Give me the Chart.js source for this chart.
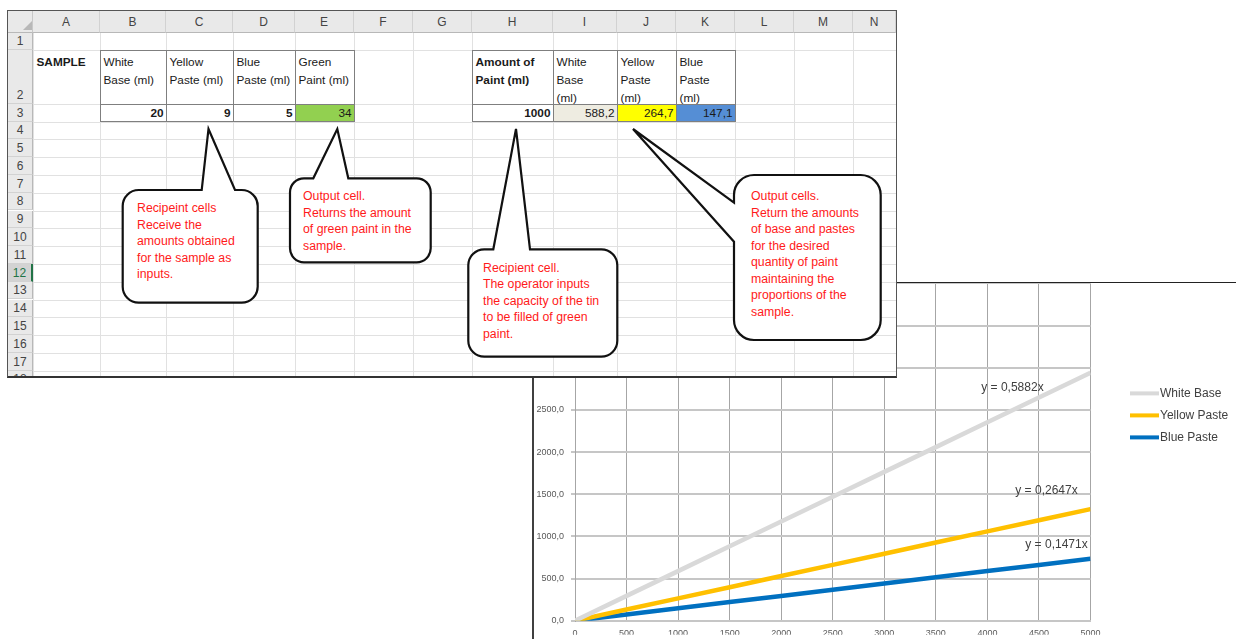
<!DOCTYPE html>
<html>
<head>
<meta charset="utf-8">
<script src="https://cdn.jsdelivr.net/npm/chart.js@4/dist/chart.umd.min.js"></script>
<style>
    body { margin: 0; width: 1236px; height: 639px; overflow: hidden; background: #fff; position: relative;
           font-family: "Liberation Sans", Arial, sans-serif; }
    #chartBox { position: absolute; left: 532px; top: 282px; width: 704px; height: 357px;
                border-left: 2px solid #404040; border-top: 1px solid #222; overflow: hidden; background: #fff; }
    #chartBox canvas { position: absolute; left: 0; top: -12px; }
    #sheet { position: absolute; left: 7px; top: 10px; width: 888px; height: 365px; overflow: hidden; background: #fff;
             border: 1px solid #555; border-bottom: 2px solid #333; z-index: 2; }
    #sheet div { position: absolute; box-sizing: border-box; }
    .hdr { background: #e9e9e9; color: #444; font-size: 12px; text-align: center; }
    .cell { font-size: 11.8px; color: #1a1a1a; padding: 2px 3px; line-height: 18px; white-space: nowrap; }
    #callouts { position: absolute; left: 0; top: 0; z-index: 3; pointer-events: none; }
    #callouts text { font-family: "Liberation Sans", Arial, sans-serif; font-size: 12.3px; fill: #ff1a1a; }
</style>
</head>
<body>
<div id="chartBox"><canvas id="paintChart" width="702" height="368" style="width:702px;height:368px"></canvas></div>
<div id="sheet"></div>
<svg id="callouts" width="1236" height="639"></svg>

<script>
// chart data
const paintAmounts = [0, 500, 1000, 1500, 2000, 2500, 3000, 3500, 4000, 4500, 5000];
const whiteBase   = [0, 294.1, 588.2, 882.3, 1176.4, 1470.5, 1764.6, 2058.7, 2352.8, 2646.9, 2941.0];
const yellowPaste = [0, 132.4, 264.7, 397.1, 529.4, 661.8, 794.1, 926.5, 1058.8, 1191.2, 1323.5];
const bluePaste   = [0, 73.5, 147.1, 220.6, 294.1, 367.6, 441.2, 514.7, 588.2, 661.8, 735.5];
const seriesNames = ['White Base', 'Yellow Paste', 'Blue Paste'];
const seriesColors = ['#d9d9d9', '#ffc000', '#0070c0'];
const trendLabels = ['y = 0,5882x', 'y = 0,2647x', 'y = 0,1471x'];

// spreadsheet content
const colNames = ['A', 'B', 'C', 'D', 'E', 'F', 'G', 'H', 'I', 'J', 'K', 'L', 'M', 'N'];
const colEdges = [8, 33, 100, 166, 233, 295, 354, 413, 472, 553, 617, 676, 735, 794, 853, 896];
const rowEdges = [11, 33, 50, 104, 121.5];
for (let n = 5; n <= 19; n++) rowEdges.push(121.5 + (n - 4) * 17.8);

const cells = [
    { col: 'A', row: 2, text: 'SAMPLE', bold: true },
    { col: 'B', row: 2, text: 'White<br>Base (ml)' },
    { col: 'C', row: 2, text: 'Yellow<br>Paste (ml)' },
    { col: 'D', row: 2, text: 'Blue<br>Paste (ml)' },
    { col: 'E', row: 2, text: 'Green<br>Paint (ml)' },
    { col: 'B', row: 3, text: '20', bold: true, right: true },
    { col: 'C', row: 3, text: '9', bold: true, right: true },
    { col: 'D', row: 3, text: '5', bold: true, right: true },
    { col: 'E', row: 3, text: '34', right: true, fill: '#92d050' },
    { col: 'H', row: 2, text: 'Amount of<br>Paint (ml)', bold: true },
    { col: 'I', row: 2, text: 'White<br>Base<br>(ml)' },
    { col: 'J', row: 2, text: 'Yellow<br>Paste<br>(ml)' },
    { col: 'K', row: 2, text: 'Blue<br>Paste<br>(ml)' },
    { col: 'H', row: 3, text: '1000', bold: true, right: true },
    { col: 'I', row: 3, text: '588,2', right: true, fill: '#eeece1' },
    { col: 'J', row: 3, text: '264,7', right: true, fill: '#ffff00' },
    { col: 'K', row: 3, text: '147,1', right: true, fill: '#558ed5' }
];
const borderedCols = ['B', 'C', 'D', 'E', 'H', 'I', 'J', 'K'];

const notes = [
    { kind: 'top', box: [122.7, 190, 257.7, 302.7], r: 16, base: [201.7, 235], tip: [208.5, 129],
      x: 137, y: 208, lines: ['Recipeint cells', 'Receive the', 'amounts obtained', 'for the sample as', 'inputs.'] },
    { kind: 'top', box: [290, 178.3, 430.7, 262.3], r: 14, base: [313.3, 348.3], tip: [337.3, 129],
      x: 303, y: 195.7, lines: ['Output cell.', 'Returns the amount', 'of green paint in the', 'sample.'] },
    { kind: 'top', box: [468.3, 249.3, 617.3, 356.7], r: 16, base: [493.3, 530], tip: [516, 129],
      x: 483, y: 267.3, lines: ['Recipient cell.', 'The operator inputs', 'the capacity of the tin', 'to be filled of green', 'paint.'] },
    { kind: 'left', box: [734, 175, 880.7, 340], r: 20, base: [202.7, 241.7], tip: [633, 129],
      x: 751, y: 195.7, lines: ['Output cells.', 'Return the amounts', 'of base and pastes', 'for the desired', 'quantity of paint', 'maintaining the', 'proportions of the', 'sample.'] }
];

function buildSheet() {
    const sheet = document.getElementById('sheet');
    const ox = 8, oy = 11;
    const add = (css, html) => {
        const d = document.createElement('div');
        d.style.cssText = css;
        if (html) d.innerHTML = html;
        sheet.appendChild(d);
        return d;
    };
    const colX = name => colEdges[colNames.indexOf(name) + 1];
    const colW = name => colEdges[colNames.indexOf(name) + 2] - colX(name);

    // grid lines
    for (let i = 1; i < colEdges.length; i++) {
        add(`left:${colEdges[i] - ox}px;top:22px;width:1px;height:400px;background:#e1e1e1`);
    }
    for (let r = 2; r < rowEdges.length; r++) {
        add(`left:25px;top:${rowEdges[r] - oy}px;width:900px;height:1px;background:#e1e1e1`);
    }

    // column headers
    add(`left:0;top:0;width:25px;height:22px;background:#e9e9e9;border-right:1px solid #c8c8c8;border-bottom:1px solid #b8b8b8`);
    add(`left:15px;top:10px;width:0;height:0;border-left:9px solid transparent;border-bottom:9px solid #b8b8b8`);
    colNames.forEach((name, i) => {
        const x = colEdges[i + 1] - ox;
        const w = colEdges[i + 2] - colEdges[i + 1];
        add(`left:${x}px;top:0;width:${w}px;height:22px;line-height:22px;border-right:1px solid #d2d2d2;border-bottom:1px solid #b8b8b8`, name).className = 'hdr';
    });

    // row headers
    for (let r = 1; r <= 18; r++) {
        const y = rowEdges[r] - oy;
        const h = rowEdges[r + 1] - rowEdges[r];
        const active = r === 12;
        const d = add(`left:0;top:${y}px;width:25px;height:${h}px;line-height:16px;padding-top:${h - 17}px;` +
            `border-bottom:1px solid #d2d2d2;border-right:${active ? '2px solid #217346' : '1px solid #b8b8b8'};` +
            (active ? 'background:#d3d3d3;color:#217346;' : ''), String(r));
        d.className = 'hdr';
    }

    // bordered table cells
    borderedCols.forEach(c => {
        [2, 3].forEach(r => {
            add(`left:${colX(c) - ox - 0.5}px;top:${rowEdges[r] - oy - 0.5}px;width:${colW(c) + 1}px;` +
                `height:${rowEdges[r + 1] - rowEdges[r] + 1}px;border:1px solid #7f7f7f`);
        });
    });

    // cell contents
    cells.forEach(c => {
        const top = rowEdges[c.row] - oy;
        const h = rowEdges[c.row + 1] - rowEdges[c.row];
        let css = `left:${colX(c.col) - ox + 0.5}px;top:${top + 0.5}px;width:${colW(c.col) - 1}px;height:${h - 1}px;`;
        if (c.fill) css += `background:${c.fill};`;
        if (c.bold) css += 'font-weight:bold;';
        if (c.right) css += 'text-align:right;padding:0 2px 0 0;line-height:17px;';
        add(css, c.text).className = 'cell';
    });
}

function buildNotes() {
    const svg = document.getElementById('callouts');
    let out = '';
    notes.forEach(n => {
        const [x1, y1, x2, y2] = n.box;
        const r = n.r;
        const arc = (x, y) => `A${r},${r} 0 0 1 ${x},${y}`;
        let d;
        if (n.kind === 'top') {
            d = `M${x1 + r},${y1} L${n.base[0]},${y1} L${n.tip[0]},${n.tip[1]} L${n.base[1]},${y1} L${x2 - r},${y1} ` +
                `${arc(x2, y1 + r)} L${x2},${y2 - r} ${arc(x2 - r, y2)} L${x1 + r},${y2} ${arc(x1, y2 - r)} ` +
                `L${x1},${y1 + r} ${arc(x1 + r, y1)} Z`;
        } else {
            d = `M${x1 + r},${y1} L${x2 - r},${y1} ${arc(x2, y1 + r)} L${x2},${y2 - r} ${arc(x2 - r, y2)} ` +
                `L${x1 + r},${y2} ${arc(x1, y2 - r)} L${x1},${n.base[1]} L${n.tip[0]},${n.tip[1]} ` +
                `L${x1},${n.base[0]} L${x1},${y1 + r} ${arc(x1 + r, y1)} Z`;
        }
        out += `<path d="${d}" fill="#fff" stroke="#111" stroke-width="2.2" stroke-linejoin="miter"/>`;
        n.lines.forEach((line, i) => {
            out += `<text x="${n.x}" y="${n.y + i * 16.5 + 4.3}">${line}</text>`;
        });
    });
    svg.innerHTML = out;
}

const trendLabelPlugin = {
    id: 'trendLabels',
    afterDatasetsDraw(chart, args, opts) {
        const { ctx, scales } = chart;
        ctx.save();
        ctx.font = '12px "Liberation Sans", Arial, sans-serif';
        ctx.fillStyle = '#404040';
        ctx.textAlign = 'center';
        ctx.textBaseline = 'middle';
        opts.anchors.forEach((a, i) => {
            ctx.fillText(trendLabels[i], scales.x.getPixelForValue(a[0]), scales.y.getPixelForValue(a[1]));
        });
        ctx.restore();
    }
};

const sideLegendPlugin = {
    id: 'sideLegend',
    afterDraw(chart) {
        const { ctx, chartArea } = chart;
        ctx.save();
        ctx.font = '12px "Liberation Sans", Arial, sans-serif';
        ctx.textBaseline = 'middle';
        chart.data.datasets.forEach((ds, i) => {
            const y = chartArea.top + 110 + i * 22;
            const x = chartArea.right + 39.5;
            ctx.strokeStyle = ds.borderColor;
            ctx.lineWidth = 4;
            ctx.beginPath();
            ctx.moveTo(x, y);
            ctx.lineTo(x + 29, y);
            ctx.stroke();
            ctx.fillStyle = '#404040';
            ctx.fillText(ds.label, x + 30, y);
        });
        ctx.restore();
    }
};

function buildChart() {
    const ctx = document.getElementById('paintChart').getContext('2d');
    const series = [whiteBase, yellowPaste, bluePaste];
    new Chart(ctx, {
        type: 'line',
        data: {
            datasets: series.map((values, i) => ({
                label: seriesNames[i],
                data: paintAmounts.map((x, j) => ({ x: x, y: values[j] })),
                borderColor: seriesColors[i],
                borderWidth: 4.5,
                pointRadius: 0,
                tension: 0,
                fill: false
            }))
        },
        options: {
            responsive: false,
            animation: false,
            events: [],
            layout: { padding: { left: 0, top: 9, right: 145.5, bottom: 4.3 } },
            plugins: {
                legend: { display: false },
                tooltip: { enabled: false },
                trendLabels: { anchors: [[4243, 2766], [4573, 1546], [4670, 900]] }
            },
            scales: {
                x: {
                    type: 'linear',
                    min: 0,
                    max: 5000,
                    afterFit: scale => { scale.height = 14; },
                    grid: { color: '#a6a6a6', lineWidth: 1, drawTicks: false },
                    border: { color: '#c6c6c6', width: 2 },
                    ticks: {
                        stepSize: 500,
                        maxRotation: 0,
                        padding: 7,
                        color: '#595959',
                        font: { family: '"Liberation Sans", Arial, sans-serif', size: 9 },
                        callback: v => String(v)
                    }
                },
                y: {
                    min: 0,
                    max: 4000,
                    afterFit: scale => { scale.width = 41; },
                    grid: { color: '#c6c6c6', lineWidth: 2, tickLength: 4 },
                    border: { color: '#a6a6a6', width: 1 },
                    ticks: {
                        stepSize: 500,
                        padding: 7,
                        color: '#595959',
                        font: { family: '"Liberation Sans", Arial, sans-serif', size: 9 },
                        callback: v => v.toFixed(1).replace('.', ',')
                    }
                }
            }
        },
        plugins: [trendLabelPlugin, sideLegendPlugin]
    });
}

buildSheet();
buildNotes();
buildChart();
</script>
</body>
</html>
